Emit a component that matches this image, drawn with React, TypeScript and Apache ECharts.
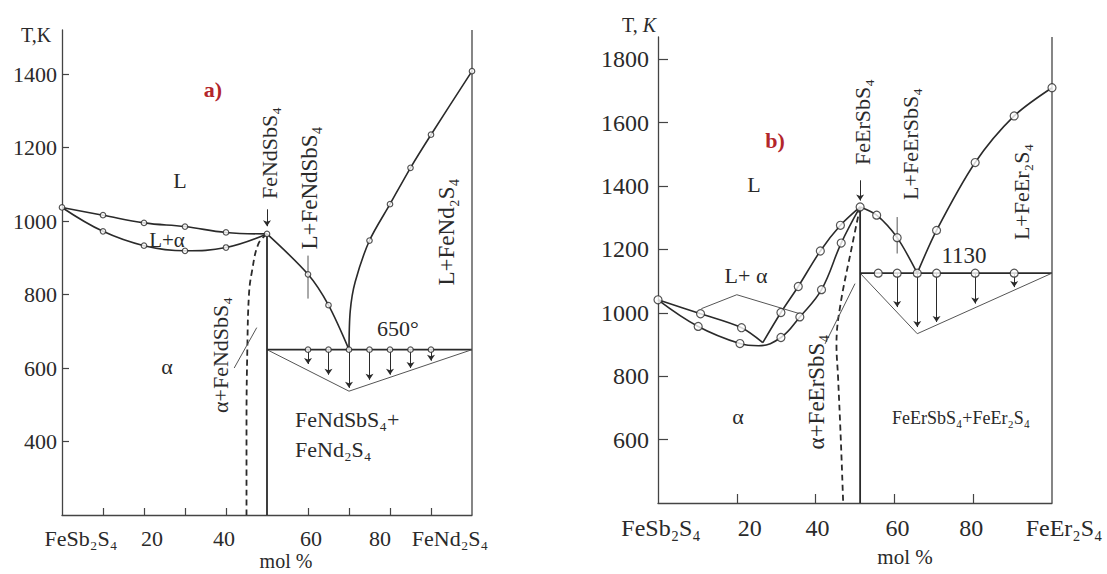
import React, { useEffect, useRef } from 'react';
import * as echarts from 'echarts';

const FONT = "'Liberation Serif','Times New Roman','DejaVu Serif',serif";
const INK = '#2a2a2a';
const AXIS = '#444';
const RED = '#b3262b';

// ---------------- Panel a) FeSb2S4 – FeNd2S4 ----------------
const aXTicks = [10, 20, 30, 40, 60, 70, 80, 90];
const aXLabelValues = [0, 20, 40, 60, 80, 100];
const aXLabels = ['FeSb₂S₄', '20', '40', '60', '80', 'FeNd₂S₄'];
const aYLabelValues = [400, 600, 800, 1000, 1200, 1400];

const aLiqLeft = [[0, 1037], [10, 1016], [20, 995], [30, 985], [40, 969], [50, 965]];
const aSolLeft = [[0, 1037], [10, 972], [20, 933], [30, 919], [40, 928], [50, 965]];
const aLiqMid = [[50, 965], [60, 855], [65, 771], [70, 650]];
const aLiqRight = [[70, 650], [70.3, 755], [71.5, 834], [75, 947], [80, 1046], [85, 1145], [90, 1235], [100, 1408]];
const aEutT = 650;
const aEutectic = [[50, 650], [100, 650]];
const aTriangle = [[50, 650], [70, 537], [100, 650]];
const aCompound = [[50, 965], [50, 200]];
const aDashed = [[50, 965], [47.9, 938], [46.3, 861], [45.6, 800], [45.2, 650], [45, 450], [45, 200]];
const aTie = [[42, 600], [47.5, 710]];
const aLeader = [[60, 906], [60, 789]];
const aBorder = [[100, 200], [100, 1520]];
const aPointer = [[50, 1032], [50, 986]];
const aArrestX = [60, 65, 70, 75, 80, 85, 90];
const aArrestT = [611, 582, 546, 568, 582, 600, 620];
const aCircles = [
  [0, 1037], [10, 1016], [20, 995], [30, 985], [40, 969], [50, 965],
  [10, 972], [20, 933], [30, 919], [40, 928],
  [60, 855], [65, 771],
  [75, 947], [80, 1046], [85, 1145], [90, 1235], [100, 1408],
  [60, 650], [65, 650], [70, 650], [75, 650], [80, 650], [85, 650], [90, 650],
];

// ---------------- Panel b) FeSb2S4 – FeEr2S4 ----------------
const bXTicks = [20, 40, 60, 80];
const bXLabelValues = [0, 20, 40, 60, 80, 100];
const bXLabels = ['FeSb₂S₄', '20', '40', '60', '80', 'FeEr₂S₄'];
const bYLabelValues = [600, 800, 1000, 1200, 1400, 1600, 1800];

const bLiqLeft = [[0, 1041], [10.8, 997], [21.2, 953], [26.6, 906]];
const bLiqRise = [[26.6, 906], [31.2, 1001], [35.6, 1083], [41.2, 1195], [46.3, 1276], [51.3, 1334]];
const bSol = [[0, 1041], [10.2, 957], [20.8, 903], [25.5, 896], [31.2, 922], [36, 987], [41.5, 1073], [46.5, 1220], [51.3, 1334]];
const bLiqMid = [[51.3, 1334], [55.5, 1308], [60.7, 1237], [65.8, 1125]];
const bLiqRight = [[65.8, 1125], [70.7, 1260], [80.5, 1474], [90.4, 1621], [100, 1710]];
const bEutT = 1125;
const bEutectic = [[51.3, 1125], [100, 1125]];
const bTriangle = [[51.3, 1125], [65.8, 934], [100, 1125]];
const bCompound = [[51.3, 1334], [51.3, 400]];
const bDashed = [[51.3, 1334], [49.2, 1208], [46.2, 1018], [45.3, 900], [45.7, 797], [46.4, 600], [47, 400]];
const bTie = [[42.4, 902], [50, 1092]];
const bRegion = [[11, 1013], [20, 1057], [36, 997]];
const bLeader = [[60.7, 1302], [60.7, 1187]];
const bBorder = [[100, 400], [100, 1870]];
const bPointer = [[51.3, 1418], [51.3, 1354]];
const bArrestX = [60.7, 65.8, 70.7, 80.5, 90.4];
const bArrestT = [1018, 955, 971, 1029, 1081];
const bCircles = [
  [0, 1041], [10.8, 997], [21.2, 953], [31.2, 1001], [35.6, 1083], [41.2, 1195], [46.3, 1276], [51.3, 1334],
  [10.2, 957], [20.8, 903], [31.2, 922], [36, 987], [41.5, 1073], [46.5, 1220],
  [55.5, 1308], [60.7, 1237],
  [70.7, 1260], [80.5, 1474], [90.4, 1621], [100, 1710],
  [55.9, 1125], [60.7, 1125], [65.8, 1125], [70.7, 1125], [80.5, 1125], [90.4, 1125],
];

// ---------------- helpers ----------------
function xAxisCfg(gi: number, ticks: number[], values: number[], labels: string[], shifts: number[], size: number, margin: number, tickLen: number) {
  const rich: any = {};
  shifts.forEach((s, i) => {
    rich['r' + i] = {
      fontSize: size, fontFamily: FONT, color: INK,
      padding: s >= 0 ? [0, 0, 0, 2 * s] : [0, -2 * s, 0, 0],
    };
  });
  return {
    type: 'value', gridIndex: gi, min: 0, max: 100,
    axisLine: { show: true, onZero: false, lineStyle: { color: AXIS, width: 1.3 } },
    axisTick: { show: true, inside: true, length: tickLen, customValues: ticks, lineStyle: { color: AXIS, width: 1.2 } },
    splitLine: { show: false },
    axisLabel: {
      margin, showMinLabel: true, showMaxLabel: true, customValues: values,
      formatter: (v: number) => {
        const i = values.indexOf(v);
        return i < 0 ? '' : `{r${i}|${labels[i]}}`;
      },
      rich,
    },
  };
}

function yAxisCfg(gi: number, min: number, max: number, values: number[], size: number, margin: number, tickLen: number) {
  return {
    type: 'value', gridIndex: gi, min, max,
    axisLine: { show: true, onZero: false, lineStyle: { color: AXIS, width: 1.3 } },
    axisTick: { show: true, inside: true, length: tickLen, customValues: values, lineStyle: { color: AXIS, width: 1.2 } },
    splitLine: { show: false },
    axisLabel: {
      margin, fontSize: size, fontFamily: FONT, color: INK, customValues: values,
      formatter: (v: number) => (values.indexOf(v) < 0 ? '' : String(v)),
    },
  };
}

function curve(ax: number, data: number[][], opt: any = {}) {
  return {
    type: 'line', xAxisIndex: ax, yAxisIndex: ax, data,
    symbol: 'none', smooth: opt.smooth ?? 0, clip: false, silent: true, z: opt.z ?? 3,
    lineStyle: { color: opt.color || INK, width: opt.width ?? 1.6, type: opt.dash ? [6, 4] : 'solid' },
    markLine: opt.markLine,
  };
}

function dots(ax: number, data: number[][], size: number) {
  return {
    type: 'scatter', xAxisIndex: ax, yAxisIndex: ax, data,
    symbol: 'circle', symbolSize: size, clip: false, silent: true, z: 6,
    itemStyle: { color: '#fff', borderColor: INK, borderWidth: 1.2 },
  };
}

function arrowLines(pairs: number[][][], size: number) {
  return {
    silent: true, symbol: ['none', 'arrow'], symbolSize: size, precision: 4,
    label: { show: false }, emphasis: { disabled: true },
    lineStyle: { color: INK, width: 1, type: 'solid' },
    data: pairs.map(([p, q]) => [{ coord: p }, { coord: q }]),
  };
}

function txt(x: number, y: number, text: string, o: any = {}) {
  return {
    type: 'text', x, y, rotation: o.rot ? Math.PI / 2 : 0, silent: true, z: 10,
    style: {
      text, x: 0, y: 0,
      fill: o.color || INK,
      fontSize: o.size || 22, fontFamily: FONT, fontWeight: o.weight || 'normal',
      align: o.align || 'center', textAlign: o.align || 'center',
      verticalAlign: 'middle', textVerticalAlign: 'middle',
      rich: o.rich,
    },
  };
}

const option: any = {
  animation: false,
  backgroundColor: '#ffffff',
  grid: [
    { left: 62, top: 30, width: 410, height: 485 },
    { left: 658, top: 37, width: 394, height: 466 },
  ],
  xAxis: [
    xAxisCfg(0, aXTicks, aXLabelValues, aXLabels, [19, 8, -2, 3, -10, -22], 22, 12, 7),
    xAxisCfg(1, bXTicks, bXLabelValues, bXLabels, [3, 13, 2, 3, -2, 12], 24, 13, 9),
  ],
  yAxis: [
    yAxisCfg(0, 200, 1520, aYLabelValues, 22, 5, 7),
    yAxisCfg(1, 400, 1870, bYLabelValues, 24, 9, 10),
  ],
  series: [
    // panel a
    curve(0, aLiqLeft, { smooth: 0.4 }),
    curve(0, aSolLeft, { smooth: 0.4 }),
    curve(0, aLiqMid, { smooth: 0.3 }),
    curve(0, aLiqRight, { smooth: 0.3 }),
    curve(0, aEutectic, {
      width: 1.8,
      markLine: arrowLines(aArrestX.map((x, i) => [[x, aEutT], [x, aArrestT[i]]]), 6),
    }),
    curve(0, aTriangle, { width: 1, color: '#555' }),
    curve(0, aCompound, { width: 1.8, markLine: arrowLines([[aPointer[0], aPointer[1]]], 6) }),
    curve(0, aDashed, { smooth: 0.4, dash: true, width: 1.8 }),
    curve(0, aTie, { width: 1, color: '#555' }),
    curve(0, aLeader, { width: 1, color: '#555' }),
    curve(0, aBorder, { width: 1.3, color: AXIS }),
    dots(0, aCircles, 5.5),
    // panel b
    curve(1, bLiqLeft, { smooth: 0.3 }),
    curve(1, bLiqRise, { smooth: 0.3 }),
    curve(1, bSol, { smooth: 0.4 }),
    curve(1, bLiqMid, { smooth: 0.3 }),
    curve(1, bLiqRight, { smooth: 0.3 }),
    curve(1, bEutectic, {
      width: 1.8,
      markLine: arrowLines(bArrestX.map((x, i) => [[x, bEutT], [x, bArrestT[i]]]), 6),
    }),
    curve(1, bTriangle, { width: 1, color: '#555' }),
    curve(1, bCompound, { width: 1.8, markLine: arrowLines([[bPointer[0], bPointer[1]]], 6) }),
    curve(1, bDashed, { smooth: 0.4, dash: true, width: 1.8 }),
    curve(1, bTie, { width: 1, color: '#555' }),
    curve(1, bRegion, { width: 1, color: '#555' }),
    curve(1, bLeader, { width: 1, color: '#555' }),
    curve(1, bBorder, { width: 1.3, color: AXIS }),
    dots(1, bCircles, 8),
  ],
  graphic: [
    // panel a texts
    txt(36, 35, 'T,K', { size: 20 }),
    txt(213, 89, 'a)', { size: 22, color: RED, weight: 'bold' }),
    txt(180, 180, 'L', { size: 22 }),
    txt(167, 240, 'L+α', { size: 21 }),
    txt(167, 366, 'α', { size: 22 }),
    txt(220, 355, 'α+FeNdSbS₄', { size: 22, rot: true }),
    txt(269, 153, 'FeNdSbS₄', { size: 22, rot: true }),
    txt(309, 188, 'L+FeNdSbS₄', { size: 23, rot: true }),
    txt(446, 232, 'L+FeNd₂S₄', { size: 23, rot: true }),
    txt(398, 328, '650°', { size: 22 }),
    txt(295, 419, 'FeNdSbS₄+', { size: 22, align: 'left' }),
    txt(295, 449, 'FeNd₂S₄', { size: 22, align: 'left' }),
    txt(286, 561, 'mol %', { size: 20 }),
    // panel b texts
    txt(639, 25, '{n|T, }{i|K}', {
      size: 20,
      rich: {
        n: { fontSize: 20, fontFamily: FONT, color: INK },
        i: { fontSize: 20, fontFamily: FONT, color: INK, fontStyle: 'italic' },
      },
    }),
    txt(775, 140, 'b)', { size: 22, color: RED, weight: 'bold' }),
    txt(754, 184, 'L', { size: 22 }),
    txt(746, 275, 'L+ α', { size: 22 }),
    txt(738, 416, 'α', { size: 22 }),
    txt(816, 392, 'α+FeErSbS₄', { size: 23, rot: true }),
    txt(862, 122, 'FeErSbS₄', { size: 22, rot: true }),
    txt(910, 144, 'L+FeErSbS₄', { size: 22, rot: true }),
    txt(964, 255, '1130', { size: 23 }),
    txt(1021, 192, 'L+FeEr₂S₄', { size: 22, rot: true }),
    txt(961, 418, 'FeErSbS₄+FeEr₂S₄', { size: 18 }),
    txt(905, 557, 'mol %', { size: 21 }),
  ],
};

export default function App() {
  const ref = useRef<HTMLDivElement>(null);
  useEffect(() => {
    if (!ref.current) return;
    const chart = echarts.init(ref.current, undefined, { renderer: 'svg' });
    chart.setOption(option);
    return () => chart.dispose();
  }, []);
  return (
    <div
      ref={ref}
      style={{ position: 'absolute', left: 0, top: 0, width: 1107, height: 574, background: '#fff' }}
    />
  );
}
